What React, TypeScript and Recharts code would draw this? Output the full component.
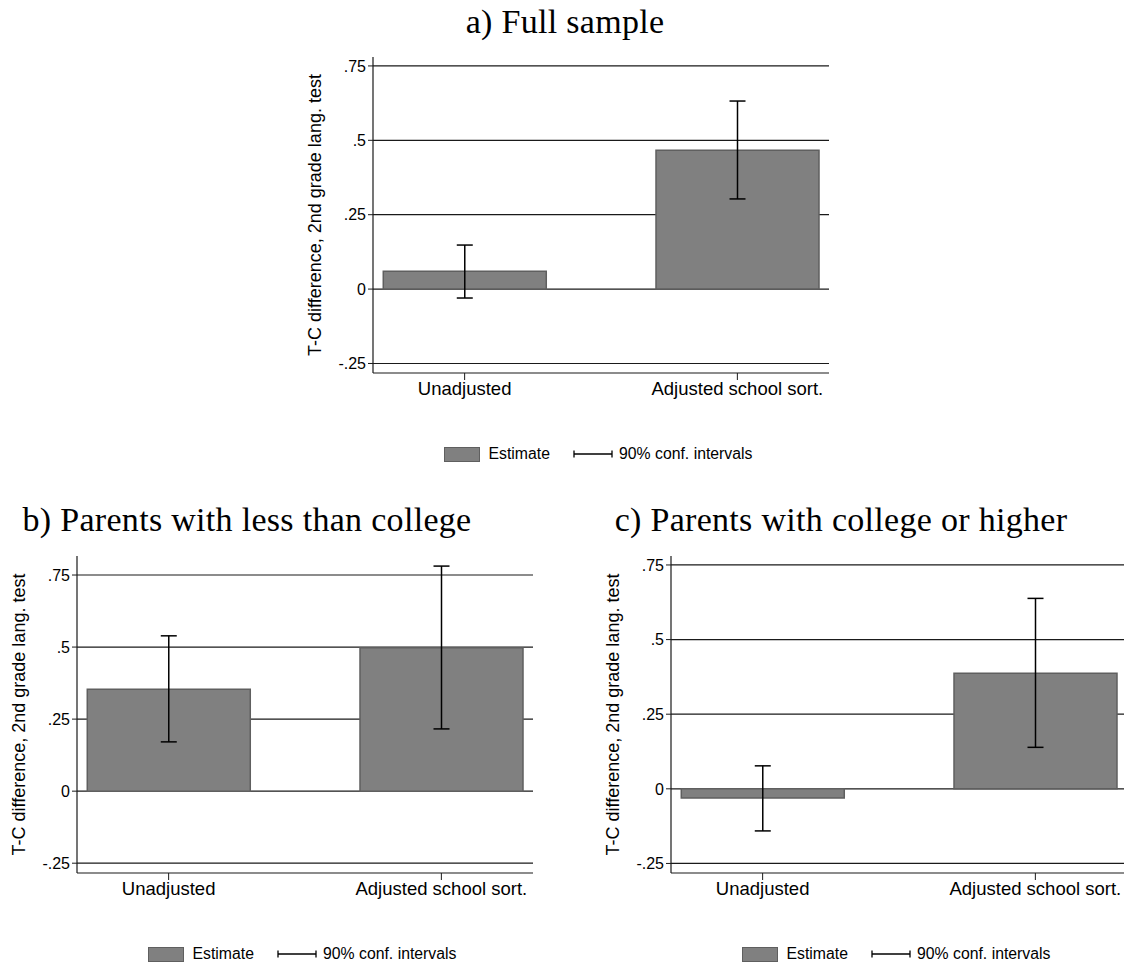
import React from "react";
import { BarChart, Bar, ErrorBar, XAxis, YAxis, CartesianGrid } from "recharts";

// Category labels shared by all three panels
const categories = ["Unadjusted", "Adjusted school sort."];
const catPos = [1, 2];

// Y ticks and their Stata-style labels
const yTicks = [-0.25, 0, 0.25, 0.5, 0.75];
const yTickLabels = ["-.25", "0", ".25", ".5", ".75"];

// a) Full sample
const fullEst = [0.06, 0.467];
const fullLo = [-0.03, 0.303];
const fullHi = [0.148, 0.632];

// b) Parents with less than college
const lessEst = [0.354, 0.498];
const lessLo = [0.171, 0.216];
const lessHi = [0.539, 0.781];

// c) Parents with college or higher
const collEst = [-0.031, 0.387];
const collLo = [-0.141, 0.139];
const collHi = [0.077, 0.638];

const PLOT_W = 456;
const YAXIS_W = 70;
const XAXIS_H = 34;
const TOP_PAD = 5;

const BAR_FILL = "#808080";
const BAR_STROKE = "#5f5f5f";
const SANS = "'Liberation Sans', Arial, sans-serif";
const SERIF = "'Liberation Serif', 'Times New Roman', serif";

interface PanelProps {
  title: string;
  titleX: number;
  titleY: number;
  est: number[];
  lo: number[];
  hi: number[];
  domain: [number, number];
  plotLeft: number;
  plotTop: number;
  plotH: number;
}

function LegendRow({ cx, cy }: { cx: number; cy: number }) {
  return (
    <div
      style={{
        position: "absolute",
        left: cx - 180,
        top: cy - 10,
        width: 360,
        height: 20,
        display: "flex",
        alignItems: "center",
        justifyContent: "center",
        fontFamily: SANS,
        fontSize: 15.8,
        color: "#000",
        whiteSpace: "nowrap",
      }}
    >
      <span
        style={{
          display: "inline-block",
          width: 34,
          height: 13,
          background: BAR_FILL,
          border: `1px solid ${BAR_STROKE}`,
          marginRight: 9,
        }}
      />
      <span>Estimate</span>
      <svg width={40} height={10} style={{ marginLeft: 23, marginRight: 6 }}>
        <line x1={1} y1={5} x2={39} y2={5} stroke="#000" strokeWidth={1.3} />
        <line x1={1} y1={1.5} x2={1} y2={8.5} stroke="#000" strokeWidth={1.3} />
        <line x1={39} y1={1.5} x2={39} y2={8.5} stroke="#000" strokeWidth={1.3} />
      </svg>
      <span>90% conf. intervals</span>
    </div>
  );
}

function Panel({ title, titleX, titleY, est, lo, hi, domain, plotLeft, plotTop, plotH }: PanelProps) {
  const rows = catPos.map((pos, i) => ({
    pos,
    est: est[i],
    err: [est[i] - lo[i], hi[i] - est[i]],
  }));

  const chartW = YAXIS_W + PLOT_W;
  const chartH = TOP_PAD + plotH + XAXIS_H;

  return (
    <>
      <div
        style={{
          position: "absolute",
          left: titleX - 300,
          top: titleY - 18,
          width: 600,
          textAlign: "center",
          fontFamily: SERIF,
          fontSize: 34,
          letterSpacing: 0.3,
          lineHeight: "36px",
          color: "#000",
          whiteSpace: "nowrap",
        }}
      >
        {title}
      </div>
      <div style={{ position: "absolute", left: plotLeft - YAXIS_W, top: plotTop - TOP_PAD }}>
        <BarChart
          width={chartW}
          height={chartH}
          data={rows}
          margin={{ top: TOP_PAD, right: 0, bottom: 0, left: 0 }}
        >
          <CartesianGrid
            vertical={false}
            horizontalValues={yTicks}
            stroke="#1a1a1a"
            strokeWidth={1.2}
          />
          <XAxis
            dataKey="pos"
            type="number"
            domain={[0.664, 2.336]}
            ticks={catPos}
            allowDataOverflow
            height={XAXIS_H}
            tickSize={7}
            tickLine={{ stroke: "#1a1a1a" }}
            axisLine={{ stroke: "#1a1a1a", strokeWidth: 1.2 }}
            tickFormatter={(v: number) => categories[catPos.indexOf(v)] ?? ""}
            tick={{ fontSize: 18.5, fill: "#000", fontFamily: SANS }}
          />
          <YAxis
            type="number"
            domain={domain}
            ticks={yTicks}
            allowDataOverflow
            width={YAXIS_W}
            tickSize={5}
            tickLine={{ stroke: "#1a1a1a" }}
            axisLine={{ stroke: "#1a1a1a", strokeWidth: 1.2 }}
            tickFormatter={(v: number) => yTickLabels[yTicks.indexOf(v)] ?? ""}
            tick={{ fontSize: 16, fill: "#000", fontFamily: SANS }}
            label={{
              value: "T-C difference, 2nd grade lang. test",
              angle: -90,
              position: "insideLeft",
              offset: 12,
              style: { textAnchor: "middle", fontSize: 18, fill: "#000", fontFamily: SANS },
            }}
          />
          <Bar
            dataKey="est"
            fill={BAR_FILL}
            stroke={BAR_STROKE}
            strokeWidth={1.5}
            barSize={163}
            isAnimationActive={false}
          >
            <ErrorBar
              dataKey="err"
              direction="y"
              width={8}
              stroke="#000"
              strokeWidth={1.5}
              isAnimationActive={false}
            />
          </Bar>
        </BarChart>
      </div>
      <LegendRow cx={plotLeft + 225} cy={plotTop + plotH + 81} />
    </>
  );
}

export default function App() {
  return (
    <div style={{ position: "relative", width: 1124, height: 966, overflow: "hidden", background: "#fff" }}>
      <style>{"body{margin:0;overflow:hidden;background:#fff}"}</style>
      <Panel
        title="a) Full sample"
        titleX={565}
        titleY={22}
        est={fullEst}
        lo={fullLo}
        hi={fullHi}
        domain={[-0.282, 0.78]}
        plotLeft={373}
        plotTop={57}
        plotH={316}
      />
      <Panel
        title="b) Parents with less than college"
        titleX={247}
        titleY={520}
        est={lessEst}
        lo={lessLo}
        hi={lessHi}
        domain={[-0.284, 0.816]}
        plotLeft={77}
        plotTop={556}
        plotH={317}
      />
      <Panel
        title="c) Parents with college or higher"
        titleX={841}
        titleY={520}
        est={collEst}
        lo={collLo}
        hi={collHi}
        domain={[-0.282, 0.78]}
        plotLeft={671}
        plotTop={556}
        plotH={317}
      />
    </div>
  );
}
